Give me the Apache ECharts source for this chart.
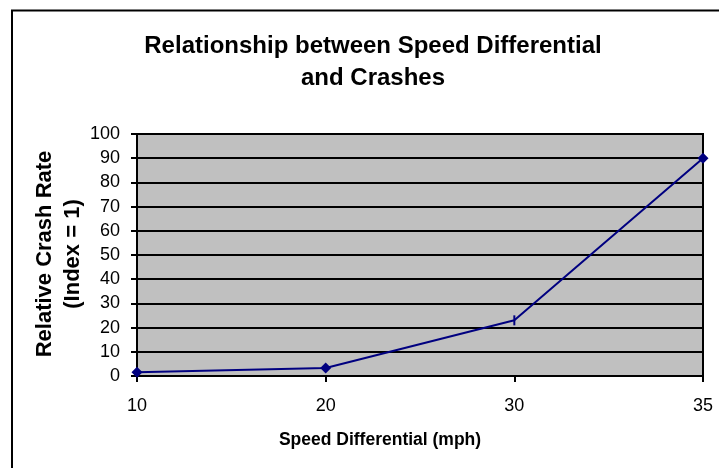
<!DOCTYPE html>
<html><head><meta charset="utf-8">
<script src="https://cdn.jsdelivr.net/npm/echarts@6/dist/echarts.min.js"></script>
<style>html,body{margin:0;padding:0;background:#fff}#c{width:719px;height:468px}</style>
</head><body><div id="c"></div>
<script>
const titleText = 'Relationship between Speed Differential\nand Crashes';
const xName = 'Speed Differential (mph)';
const yName = 'Relative Crash Rate\n(Index = 1)';
const categories = ['10', '20', '30', '35'];
const crashRate = [1.5, 3.3, 23, 90];
const yMin = 0, yMax = 100, yStep = 10;

const F = 'Liberation Sans, Arial, sans-serif';
const chart = echarts.init(document.getElementById('c'), null, {renderer: 'canvas'});
chart.setOption({
  animation: false,
  backgroundColor: '#fff',
  title: {
    text: titleText,
    left: 368, top: 25, textAlign: 'center',
    textStyle: {fontFamily: F, fontSize: 24, fontWeight: 'bold', color: '#000', lineHeight: 32}
  },
  graphic: [{
    type: 'rect', shape: {x: 12, y: 10.5, width: 900, height: 900},
    style: {fill: 'none', stroke: '#000', lineWidth: 2}, silent: true
  }],
  grid: {
    left: 137, right: 16, top: 134, bottom: 92,
    show: true, backgroundColor: '#c0c0c0', borderColor: '#000', borderWidth: 2
  },
  xAxis: {
    type: 'category', data: categories, boundaryGap: false,
    name: xName, nameLocation: 'middle', nameGap: 55, nameMoveOverlap: false,
    nameTextStyle: {fontFamily: F, fontSize: 17.5, fontWeight: 'bold', color: '#000', padding: [0, 80, 0, 0]},
    axisLine: {lineStyle: {color: '#000', width: 2}},
    axisTick: {show: true, length: 6, lineStyle: {color: '#000', width: 2}, alignWithLabel: true},
    axisLabel: {fontFamily: F, fontSize: 18, color: '#000', margin: 21},
    splitLine: {show: false}
  },
  yAxis: {
    type: 'value', min: yMin, max: yMax, interval: yStep,
    name: yName, nameLocation: 'middle', nameRotate: 90, nameGap: 50, nameMoveOverlap: false,
    nameTextStyle: {fontFamily: F, fontSize: 22, fontWeight: 'bold', color: '#000', lineHeight: 28, padding: [0, 0, 0, 2]},
    axisLine: {show: true, lineStyle: {color: '#000', width: 2}},
    axisTick: {show: true, length: 6, lineStyle: {color: '#000', width: 2}},
    axisLabel: {fontFamily: F, fontSize: 18, color: '#000', margin: 17},
    splitLine: {show: true, lineStyle: {color: '#000', width: 2}}
  },
  series: [{
    type: 'line',
    data: crashRate.map((v, i) => i === 2 ? {value: v, symbol: 'rect', symbolSize: [2, 10]} : v),
    symbol: 'diamond', symbolSize: 11,
    lineStyle: {color: '#000080', width: 2},
    itemStyle: {color: '#000080'}
  }]
});
</script></body></html>
